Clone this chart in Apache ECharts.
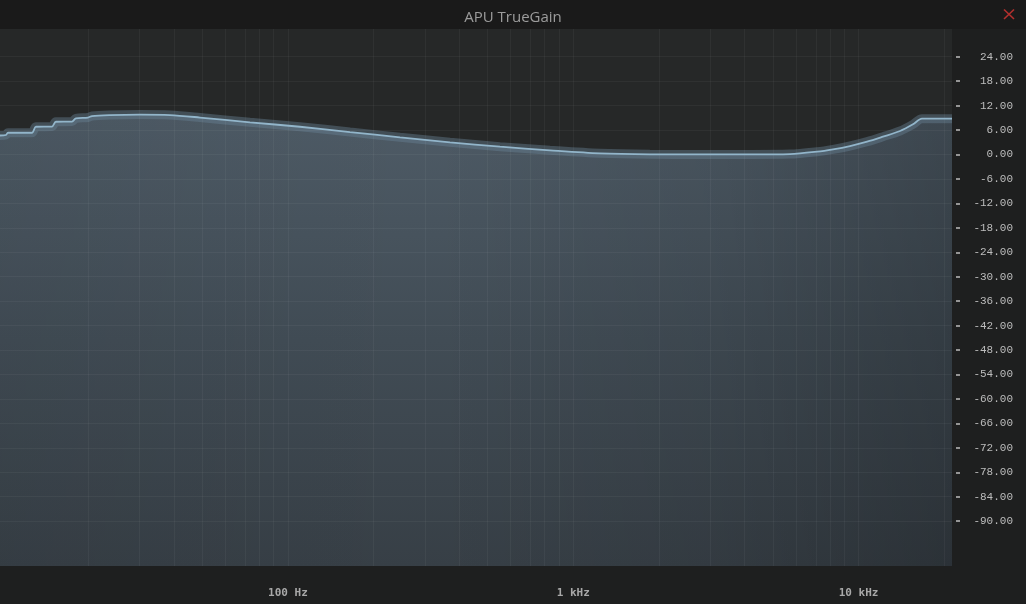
<!DOCTYPE html>
<html>
<head>
<meta charset="utf-8">
<script src="https://cdn.jsdelivr.net/npm/echarts@6/dist/echarts.min.js"></script>
<style>
html,body{margin:0;padding:0;background:#1e1f1f;}
#c{width:1026px;height:604px;}
</style>
</head>
<body>
<div id="c"></div>
<script>
// ---- data ----
const freqHz = [9.79, 10.27, 10.44, 12.67, 13.08, 14.89, 15.37, 17.50, 18.07, 19.91, 20.56, 23.78, 30.29, 38.59, 49.15, 73.6, 110.2, 165, 247, 369.6, 553.5, 828.6, 1240, 1857, 2781, 4163, 5747, 7150, 8135, 9329, 10710, 12170, 13970, 15510, 16680, 21250];
const gainDb = [4.66, 4.78, 5.34, 5.34, 6.81, 6.86, 8.04, 8.09, 8.87, 9.07, 9.44, 9.68, 9.80, 9.68, 9.07, 7.89, 6.81, 5.51, 4.22, 2.99, 1.91, 1.03, 0.29, 0.05, 0.02, 0.02, 0.10, 0.69, 1.27, 2.08, 3.14, 4.36, 5.76, 7.40, 8.80, 8.80];
const xTickHz = [100, 1000, 10000];
const xTickLabels = ['100 Hz', '1 kHz', '10 kHz'];
const yTicks = [24, 18, 12, 6, 0, -6, -12, -18, -24, -30, -36, -42, -48, -54, -60, -66, -72, -78, -84, -90];
const gridHz = [20,30,40,50,60,70,80,90,100,200,300,400,500,600,700,800,900,1000,2000,3000,4000,5000,6000,7000,8000,9000,10000,20000];
const freqMin = 9.79, freqMax = 21250;
const dbMin = -101, dbMax = 30.8;
const titleText = 'APU TrueGain';

// ---- build ----
const lg = v => Math.log10(v);
const pts = freqHz.map((f, i) => [lg(f), gainDb[i]]);
const xTickLog = xTickHz.map(lg);
const labelMap = {};
xTickLog.forEach((v, i) => { labelMap[v.toFixed(4)] = xTickLabels[i]; });

const gridLines = [];
gridHz.forEach(f => gridLines.push({ xAxis: lg(f) }));
yTicks.forEach(v => gridLines.push({ yAxis: v }));

const chart = echarts.init(document.getElementById('c'), null, { renderer: 'canvas' });
chart.setOption({
  backgroundColor: '#1e1f1f',
  animation: false,
  title: {
    text: titleText, left: 'center', top: 5,
    textStyle: { color: '#9c9c9c', fontSize: 15, fontWeight: 'normal', fontFamily: 'Open Sans' }
  },
  graphic: [
    { type: 'rect', z: -10, shape: { x: 0, y: 0, width: 1026, height: 29 }, style: { fill: '#1a1a1a' } },
    { type: 'line', shape: { x1: 1004, y1: 9.5, x2: 1014, y2: 19 }, style: { stroke: '#b3302e', lineWidth: 1.6 } },
    { type: 'line', shape: { x1: 1014, y1: 9.5, x2: 1004, y2: 19 }, style: { stroke: '#b3302e', lineWidth: 1.6 } }
  ],
  grid: {
    left: 0, top: 29, right: 74, bottom: 38,
    show: true, backgroundColor: '#262828', borderWidth: 0
  },
  xAxis: {
    type: 'value', min: lg(freqMin), max: lg(freqMax), offset: 4,
    axisLine: { show: false },
    splitLine: { show: false },
    axisTick: { show: true, customValues: xTickLog, length: 3, lineStyle: { color: '#c8c8c8', width: 1 } },
    axisLabel: {
      customValues: xTickLog, margin: 18,
      color: '#a8a8a8', fontFamily: 'DejaVu Sans Mono', fontSize: 11, fontWeight: 'bold',
      formatter: v => labelMap[v.toFixed(4)] || ''
    }
  },
  yAxis: {
    type: 'value', position: 'right', min: dbMin, max: dbMax, offset: 4,
    axisLine: { show: false },
    splitLine: { show: false },
    axisTick: { show: true, customValues: yTicks, length: 4, lineStyle: { color: '#bdbdbd', width: 1.5 } },
    axisLabel: {
      customValues: yTicks, margin: 57, align: 'right',
      color: '#bdbdbd', fontFamily: 'Liberation Mono', fontSize: 11,
      formatter: v => v.toFixed(2)
    }
  },
  series: [
    {
      type: 'line', data: pts, smooth: 0.3, symbol: 'none', z: 1,
      lineStyle: { width: 0 },
      areaStyle: {
        origin: 'start', opacity: 1,
        color: { type: 'linear', x: 0, y: 0, x2: 0, y2: 1, colorStops: [
          { offset: 0, color: '#4e5b66' }, { offset: 0.5, color: '#414c55' }, { offset: 1, color: '#373f46' } ] }
      }
    },
    {
      type: 'line', data: pts, smooth: 0.3, symbol: 'none', z: 2,
      lineStyle: { width: 0 },
      areaStyle: {
        origin: 'start', opacity: 1,
        color: { type: 'linear', x: 0, y: 0, x2: 1, y2: 0, colorStops: [
          { offset: 0, color: 'rgba(0,0,0,0.05)' }, { offset: 0.45, color: 'rgba(0,0,0,0)' },
          { offset: 0.75, color: 'rgba(0,0,0,0.08)' }, { offset: 1, color: 'rgba(0,0,0,0.22)' } ] }
      }
    },
    {
      type: 'line', data: [], z: 3, silent: true,
      markLine: {
        silent: true, symbol: 'none', label: { show: false },
        lineStyle: { type: 'solid', color: 'rgba(255,255,255,0.045)', width: 1 },
        data: gridLines
      }
    },
    {
      type: 'line', data: pts, smooth: 0.3, symbol: 'none', z: 4,
      lineStyle: { width: 9, color: 'rgba(105,132,150,0.42)' }
    },
    {
      type: 'line', data: pts, smooth: 0.3, symbol: 'none', z: 5,
      lineStyle: { width: 1.8, color: '#92b5ca' }
    }
  ]
});
</script>
</body>
</html>
